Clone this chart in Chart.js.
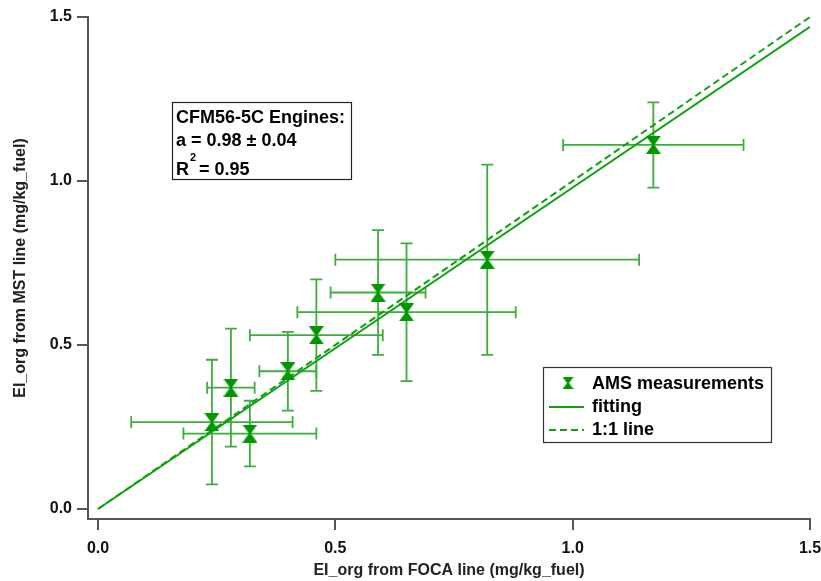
<!DOCTYPE html>
<html>
<head>
<meta charset="utf-8">
<script src="https://cdn.jsdelivr.net/npm/chart.js@4.4.1/dist/chart.umd.min.js"></script>
<style>
html,body{margin:0;padding:0;background:#fff}
#wrap{width:821px;height:581px}
</style>
</head>
<body>
<div id="wrap"><canvas id="c"></canvas></div>
<script>
// AMS measurements: FOCA line (x) vs MST line (y), mg/kg_fuel
const focaX = [0.24, 0.28, 0.32, 0.40, 0.46, 0.59, 0.65, 0.82, 1.17];
const mstY  = [0.265, 0.37, 0.23, 0.42, 0.53, 0.66, 0.60, 0.76, 1.11];
const xErr  = [0.17, 0.05, 0.14, 0.06, 0.14, 0.10, 0.23, 0.32, 0.19];
const yErr  = [0.19, 0.18, 0.10, 0.12, 0.17, 0.19, 0.21, 0.29, 0.13];
const fitSlope = 0.98;
const lineX = [0, 1.5];
const tickVals = [0, 0.5, 1.0, 1.5];

const GREEN = '#009600';
const BAR = '#3cae3c';
const AXIS = '#555';
const FONT = '"Liberation Sans", Arial, sans-serif';

function hourglass(w, h) {
  const c = document.createElement('canvas');
  c.width = w; c.height = h;
  const g = c.getContext('2d');
  g.fillStyle = GREEN;
  g.beginPath();
  g.moveTo(0, 0); g.lineTo(w, 0); g.lineTo(w / 2 + 1, h / 2);
  g.lineTo(w, h); g.lineTo(0, h); g.lineTo(w / 2 - 1, h / 2);
  g.closePath();
  g.fill();
  return c;
}
const marker = hourglass(15, 18);
const legendMarker = hourglass(11, 12);

const pts = focaX.map((x, i) => ({x: x, y: mstY[i]}));

const errorBars = {
  id: 'errorBars',
  beforeDatasetsDraw(chart) {
    const {ctx, scales: {x, y}} = chart;
    const cap = 6;
    ctx.save();
    ctx.strokeStyle = BAR;
    ctx.lineWidth = 1.8;
    focaX.forEach((v, i) => {
      const px = x.getPixelForValue(v), py = y.getPixelForValue(mstY[i]);
      const x0 = x.getPixelForValue(v - xErr[i]), x1 = x.getPixelForValue(v + xErr[i]);
      const y0 = y.getPixelForValue(mstY[i] - yErr[i]), y1 = y.getPixelForValue(mstY[i] + yErr[i]);
      ctx.beginPath();
      ctx.moveTo(x0, py); ctx.lineTo(x1, py);
      ctx.moveTo(x0, py - cap); ctx.lineTo(x0, py + cap);
      ctx.moveTo(x1, py - cap); ctx.lineTo(x1, py + cap);
      ctx.moveTo(px, y0); ctx.lineTo(px, y1);
      ctx.moveTo(px - cap, y0); ctx.lineTo(px + cap, y0);
      ctx.moveTo(px - cap, y1); ctx.lineTo(px + cap, y1);
      ctx.stroke();
    });
    ctx.restore();
  }
};

const boxes = {
  id: 'boxes',
  afterDraw(chart) {
    const ctx = chart.ctx;
    ctx.save();
    // annotation box
    ctx.fillStyle = '#fff';
    ctx.fillRect(172, 102, 180, 78);
    ctx.strokeStyle = '#222';
    ctx.lineWidth = 1.2;
    ctx.strokeRect(172.5, 102.5, 179, 77);
    ctx.fillStyle = '#000';
    ctx.textBaseline = 'middle';
    ctx.font = 'bold 18px ' + FONT;
    ctx.fillText('CFM56-5C Engines:', 176, 118);
    ctx.fillText('a = 0.98 \u00b1 0.04', 176, 141);
    ctx.fillText('R', 176, 170);
    const rw = ctx.measureText('R').width;
    ctx.fillText(' = 0.95', 176 + rw + 5, 170);
    ctx.font = 'bold 11px ' + FONT;
    ctx.fillText('2', 176 + rw + 1, 158);

    // legend box
    ctx.fillStyle = '#fff';
    ctx.fillRect(543, 367, 229, 76);
    ctx.strokeStyle = '#333';
    ctx.strokeRect(543.5, 367.5, 228, 75);
    ctx.drawImage(legendMarker, 568 - 5.5, 383 - 6);
    const ds = chart.data.datasets;
    [[ds[1], 407], [ds[2], 430]].forEach(([d, yy]) => {
      ctx.strokeStyle = d.borderColor;
      ctx.lineWidth = d.borderWidth;
      ctx.setLineDash(d.borderDash || []);
      ctx.beginPath();
      ctx.moveTo(549, yy); ctx.lineTo(584, yy);
      ctx.stroke();
    });
    ctx.setLineDash([]);
    ctx.fillStyle = '#000';
    ctx.font = 'bold 18px ' + FONT;
    ctx.fillText(ds[0].label, 592, 384);
    ctx.fillText(ds[1].label, 592, 407);
    ctx.fillText(ds[2].label, 592, 430);
    ctx.restore();
  }
};

function axis(min, fitKey, fitVal, title, titlePad, tickPad) {
  return {
    type: 'linear',
    min: min,
    max: 1.5,
    afterBuildTicks: s => { s.ticks = tickVals.map(v => ({value: v})); },
    afterFit: s => {
      s[fitKey] = fitVal;
      s.paddingLeft = 0; s.paddingRight = 0; s.paddingTop = 0; s.paddingBottom = 0;
    },
    grid: {drawOnChartArea: false, drawTicks: true, tickLength: 11, color: AXIS, lineWidth: 2},
    border: {display: true, color: AXIS, width: 2},
    ticks: {
      color: '#111',
      padding: tickPad,
      maxRotation: 0,
      font: {family: FONT, size: 16, weight: 'bold'},
      callback: v => Number(v).toFixed(1)
    },
    title: {
      display: true,
      text: title,
      color: '#222',
      padding: titlePad,
      font: {family: FONT, size: 16, weight: 'bold'}
    }
  };
}

new Chart(document.getElementById('c'), {
  type: 'scatter',
  data: {
    datasets: [
      {
        label: 'AMS measurements',
        data: pts,
        pointStyle: marker,
        pointRadius: 8,
        pointHoverRadius: 8
      },
      {
        label: 'fitting',
        type: 'line',
        data: lineX.map(v => ({x: v, y: v * fitSlope})),
        borderColor: '#10a010',
        borderWidth: 2,
        pointRadius: 0,
        fill: false
      },
      {
        label: '1:1 line',
        type: 'line',
        data: lineX.map(v => ({x: v, y: v})),
        borderColor: '#10a010',
        borderWidth: 2,
        borderDash: [7, 4],
        pointRadius: 0,
        fill: false
      }
    ]
  },
  options: {
    responsive: true,
    maintainAspectRatio: false,
    animation: false,
    layout: {padding: {top: 17, right: 11, left: 0, bottom: 0}},
    plugins: {legend: {display: false}, tooltip: {enabled: false}},
    scales: {
      x: axis(-10 / (712 / 1.5), 'height', 62, 'EI_org from FOCA line (mg/kg_fuel)', {top: 0, bottom: 1}, 9),
      y: axis(-10 / 328, 'width', 88, 'EI_org from MST line (mg/kg_fuel)', {top: 11, bottom: 0}, 5)
    }
  },
  plugins: [errorBars, boxes]
});
</script>
</body>
</html>
